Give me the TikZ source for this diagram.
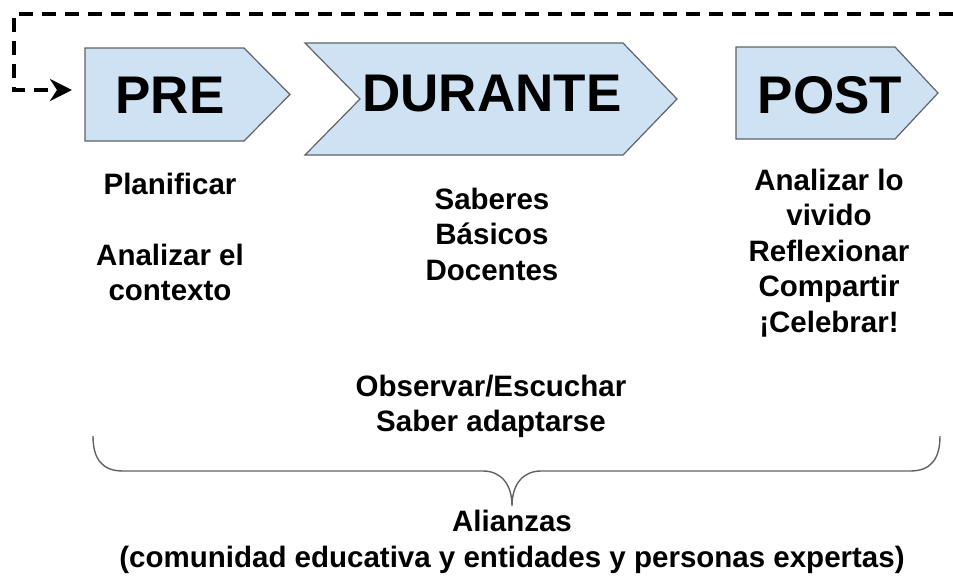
\documentclass[tikz,border=0pt]{standalone}
\usepackage{fontspec}
\setmainfont{Liberation Sans}
\usetikzlibrary{calc,arrows.meta}
\tikzset {>=Stealth}
\definecolor{stagefill}{HTML}{CFE2F3}
\definecolor{stageline}{HTML}{5F6368}
\tikzset{stage/.style={fill=stagefill,draw=stageline,line width=1.2pt},
  stagetext/.style={inner sep=0pt,font=\fontsize{53}{60}\selectfont\bfseries},
  note/.style={inner sep=0pt,anchor=north,align=center,font=\fontsize{29.5}{35.5}\selectfont\bfseries},
  loopline/.style={line width=4.5pt,dash pattern=on 14pt off 9pt},
  bracket/.style={draw=stageline,line width=1.4pt}}

\begin{document}
\begin{tikzpicture}[x=1pt,y=-1pt]
\useasboundingbox (0,0) rectangle (953,576);
\foreach \name/\l/\s/\t/\top/\bot/\notch/\txt/\tx/\ty in {pre/85/244/290/48/141/0/PRE/170/95,dur/305/623/677/43/155/55/DURANTE/492/94,post/736/895/938/47/139/0/POST/830/95} {
  \draw[stage] (\l,\top) -- (\s,\top) -- (\t,{(\top+\bot)/2}) -- (\s,\bot) -- (\l,\bot) -- (\l+\notch,{(\top+\bot)/2}) -- cycle;
  \coordinate (\name-w) at (\l,{(\top+\bot)/2});
  \node[stagetext] (\name) at (\tx,\ty) {\txt};
}
% notes under each stage
\node[note] (plan) at (170,172.5) {Planificar\\ \\ Analizar el\\ contexto};
\node[note] (saberes) at (492,187.5) {Saberes\\ Básicos\\ Docentes};
\node[note] (cierre) at (829,168.5) {Analizar lo\\ vivido\\ Reflexionar\\ Compartir\\ ¡Celebrar!};
\node[note] (observa) at (491,374.5) {Observar/Escuchar\\ Saber adaptarse};
\node[note] (alianzas) at (512,510) {Alianzas\\ (comunidad educativa y entidades y personas expertas)};
% brace
\coordinate (bl) at (93,436);
\coordinate (br) at (940,436);
\coordinate (tip) at (512,506);
\draw[bracket] (bl) .. controls (93,460) and (103,471) .. (123,471) -- (483,471)
  .. controls (500,471) and (512,483) .. (tip)
  .. controls (512,483) and (524,471) .. (541,471) -- (910,471)
  .. controls (930,471) and (940,460) .. (br);
% loop back to PRE
\coordinate (loop) at (953,14);
\coordinate (corner) at (14,14);
\draw[loopline,-{Stealth[length=22pt,width=22pt,inset=7pt]},shorten >=13pt] (loop) -- (corner) |- ([yshift=4.5pt]pre-w);
\end{tikzpicture}
\end{document}
